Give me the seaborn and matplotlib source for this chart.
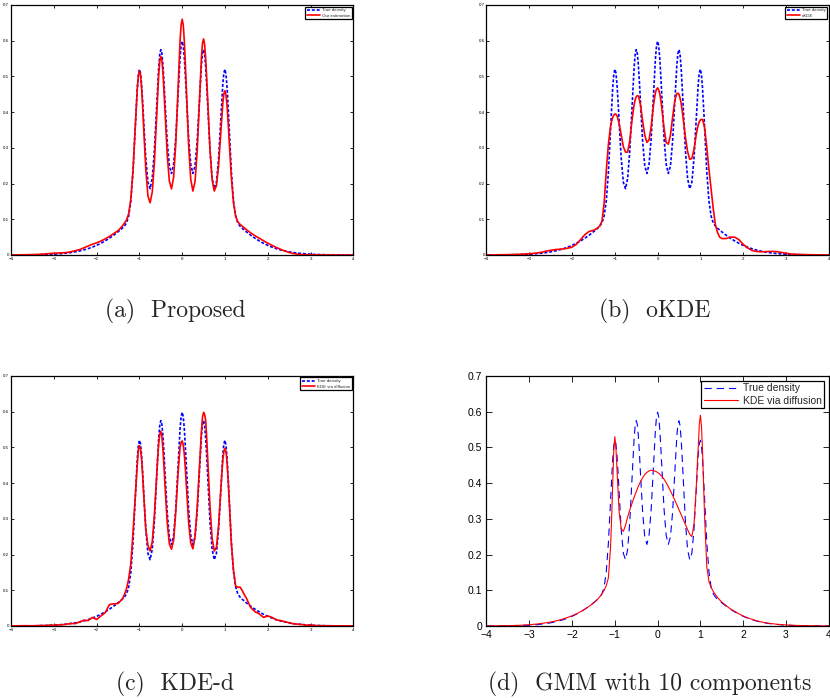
import matplotlib
matplotlib.use("Agg")
import matplotlib.pyplot as plt
import seaborn as sns

sns.set_style("ticks")
plt.rcParams["font.family"] = ["Liberation Sans", "DejaVu Sans"]

# evaluation grid (coarser in the tails)
x_grid = [-4.0, -3.9, -3.8, -3.7, -3.6, -3.5, -3.4, -3.3, -3.2, -3.1,
          -3.0, -2.9, -2.8, -2.7, -2.6, -2.5, -2.4, -2.3, -2.2, -2.1,
          -2.0, -1.9, -1.8, -1.7, -1.6,
          -1.5, -1.45, -1.4, -1.35, -1.3, -1.25, -1.2, -1.15, -1.1, -1.05,
          -1.0, -0.95, -0.9, -0.85, -0.8, -0.75, -0.7, -0.65, -0.6, -0.55,
          -0.5, -0.45, -0.4, -0.35, -0.3, -0.25, -0.2, -0.15, -0.1, -0.05,
          0.0, 0.05, 0.1, 0.15, 0.2, 0.25, 0.3, 0.35, 0.4, 0.45,
          0.5, 0.55, 0.6, 0.65, 0.7, 0.75, 0.8, 0.85, 0.9, 0.95,
          1.0, 1.05, 1.1, 1.15, 1.2, 1.25, 1.3, 1.35, 1.4, 1.45,
          1.5,
          1.6, 1.7, 1.8, 1.9, 2.0, 2.1, 2.2, 2.3, 2.4, 2.5,
          2.6, 2.7, 2.8, 2.9, 3.0, 3.1, 3.2, 3.3, 3.4, 3.5,
          3.6, 3.7, 3.8, 3.9, 4.0]
# extra points around the five peaks
x_peaks = [-1.075, -1.025, -0.975, -0.925, -0.575, -0.525, -0.475, -0.425, -0.075, -0.025,
           0.025, 0.075, 0.425, 0.475, 0.525, 0.575, 0.925, 0.975, 1.025, 1.075]

true_density = [0.0001, 0.0001, 0.0001, 0.0002, 0.0003, 0.0004, 0.0006, 0.0009, 0.0012, 0.0016,
                0.0022, 0.0030, 0.0040, 0.0052, 0.0068, 0.0088, 0.0112, 0.0142, 0.0177, 0.0220,
                0.0270, 0.0328, 0.0395, 0.0470, 0.0555,
                0.0648, 0.0697, 0.0750, 0.0811, 0.0901, 0.1088, 0.1511, 0.2325, 0.3509, 0.4670,
                0.5199, 0.4791, 0.3751, 0.2694, 0.2032, 0.1856, 0.2145, 0.2920, 0.4087, 0.5236,
                0.5749, 0.5324, 0.4262, 0.3180, 0.2491, 0.2283, 0.2539, 0.3276, 0.4406, 0.5513,
                0.5984, 0.5513, 0.4406, 0.3276, 0.2539, 0.2283, 0.2491, 0.3180, 0.4262, 0.5324,
                0.5749, 0.5236, 0.4087, 0.2920, 0.2145, 0.1856, 0.2032, 0.2694, 0.3751, 0.4791,
                0.5199, 0.4670, 0.3509, 0.2325, 0.1511, 0.1088, 0.0901, 0.0811, 0.0750, 0.0697,
                0.0648,
                0.0555, 0.0470, 0.0395, 0.0328, 0.0270, 0.0220, 0.0177, 0.0142, 0.0112, 0.0088,
                0.0068, 0.0052, 0.0040, 0.0030, 0.0022, 0.0016, 0.0012, 0.0009, 0.0006, 0.0004,
                0.0003, 0.0002, 0.0001, 0.0001, 0.0001]
true_peaks = [0.4130, 0.5046, 0.5107, 0.4311, 0.4701, 0.5605, 0.5649, 0.4834, 0.4999, 0.5861,
              0.5861, 0.4999, 0.4834, 0.5649, 0.5605, 0.4701, 0.4311, 0.5107, 0.5046, 0.4130]

ours = [0.0001, 0.0002, 0.0003, 0.0005, 0.0008, 0.0010, 0.0015, 0.0020, 0.0030, 0.0040,
        0.0050, 0.0055, 0.0060, 0.0070, 0.0090, 0.0120, 0.0150, 0.0200, 0.0250, 0.0300,
        0.0340, 0.0390, 0.0450, 0.0520, 0.0600,
        0.068, 0.074, 0.081, 0.089, 0.098, 0.116, 0.157, 0.236, 0.351, 0.464,
        0.515, 0.470, 0.355, 0.239, 0.165, 0.146, 0.176, 0.258, 0.381, 0.502,
        0.556, 0.511, 0.397, 0.281, 0.207, 0.185, 0.218, 0.312, 0.458, 0.600,
        0.660, 0.599, 0.455, 0.308, 0.212, 0.179, 0.205, 0.289, 0.422, 0.553,
        0.605, 0.549, 0.423, 0.295, 0.211, 0.179, 0.194, 0.249, 0.338, 0.426,
        0.460, 0.415, 0.316, 0.215, 0.145, 0.109, 0.093, 0.086, 0.081, 0.076,
        0.071,
        0.062, 0.054, 0.047, 0.040, 0.033, 0.027, 0.021, 0.016, 0.011, 0.007,
        0.004, 0.002, 0.001, 0.0005, 0.0003, 0.0002, 0.0001, 0.0001, 0.0001, 0.0,
        0.0, 0.0, 0.0, 0.0, 0.0]
ours_peaks = [0.411, 0.500, 0.505, 0.417, 0.446, 0.541, 0.545, 0.458, 0.534, 0.644,
              0.644, 0.532, 0.4925, 0.593, 0.589, 0.490, 0.385, 0.452, 0.447, 0.369]

okde = [0.0002, 0.0003, 0.0004, 0.0005, 0.0007, 0.0009, 0.0012, 0.0016, 0.0020, 0.0027,
        0.0035, 0.0045, 0.0060, 0.0080, 0.0110, 0.0130, 0.0150, 0.0160, 0.0170, 0.0190,
        0.0220, 0.0300, 0.0430, 0.0570, 0.0660,
        0.069, 0.072, 0.076, 0.082, 0.095, 0.145, 0.235, 0.310, 0.360, 0.385,
        0.395, 0.390, 0.368, 0.335, 0.303, 0.288, 0.288, 0.320, 0.375, 0.420,
        0.443, 0.445, 0.420, 0.375, 0.335, 0.315, 0.322, 0.360, 0.415, 0.455,
        0.468, 0.452, 0.410, 0.355, 0.315, 0.310, 0.335, 0.385, 0.430, 0.452,
        0.450, 0.425, 0.380, 0.330, 0.290, 0.268, 0.270, 0.295, 0.335, 0.365,
        0.378, 0.379, 0.355, 0.300, 0.240, 0.185, 0.130, 0.085, 0.063, 0.050,
        0.046,
        0.046, 0.050, 0.050, 0.043, 0.030, 0.020, 0.013, 0.010, 0.009, 0.009,
        0.010, 0.010, 0.009, 0.007, 0.005, 0.003, 0.002, 0.0015, 0.001, 0.0007,
        0.0005, 0.0003, 0.0002, 0.0001, 0.0001]
okde_peaks = [0.374, 0.391, 0.394, 0.380, 0.399, 0.434, 0.446, 0.434, 0.437, 0.464,
              0.462, 0.433, 0.443, 0.453, 0.439, 0.404, 0.351, 0.373, 0.380, 0.369]

kde_d = [0.0003, 0.0003, 0.0005, 0.0008, 0.0006, 0.0005, 0.0008, 0.0015, 0.0012, 0.0025,
         0.0020, 0.0030, 0.0035, 0.0050, 0.0070, 0.0065, 0.0110, 0.0160, 0.0150, 0.0240,
         0.0180, 0.0280, 0.0370, 0.0600, 0.0620,
         0.063, 0.069, 0.075, 0.088, 0.105, 0.132, 0.175, 0.260, 0.355, 0.450,
         0.505, 0.470, 0.370, 0.270, 0.225, 0.210, 0.235, 0.310, 0.415, 0.510,
         0.545, 0.495, 0.390, 0.290, 0.230, 0.215, 0.240, 0.320, 0.420, 0.500,
         0.518, 0.480, 0.390, 0.290, 0.232, 0.216, 0.250, 0.330, 0.440, 0.545,
         0.598, 0.575, 0.460, 0.335, 0.245, 0.210, 0.220, 0.280, 0.375, 0.465,
         0.497, 0.455, 0.350, 0.230, 0.155, 0.112, 0.108, 0.109, 0.100, 0.088,
         0.078,
         0.052, 0.040, 0.034, 0.024, 0.028, 0.024, 0.017, 0.015, 0.012, 0.009,
         0.006, 0.005, 0.004, 0.002, 0.003, 0.001, 0.0008, 0.0006, 0.0005, 0.0004,
         0.0003, 0.0002, 0.0002, 0.0001, 0.0001]
kde_d_peaks = [0.406, 0.492, 0.496, 0.424, 0.466, 0.536, 0.532, 0.446, 0.463, 0.5135,
               0.508, 0.438, 0.496, 0.585, 0.592, 0.522, 0.423, 0.489, 0.4865, 0.406]

gmm10 = [0.0001, 0.0002, 0.0003, 0.0004, 0.0006, 0.0008, 0.0011, 0.0015, 0.0020, 0.0027,
         0.0035, 0.0045, 0.0057, 0.0072, 0.0090, 0.0110, 0.0135, 0.0165, 0.0200, 0.0240,
         0.0285, 0.0340, 0.0400, 0.0470, 0.0550,
         0.064, 0.069, 0.075, 0.082, 0.090, 0.100, 0.113, 0.135, 0.220, 0.400,
         0.530, 0.440, 0.320, 0.272, 0.265, 0.282, 0.305, 0.325, 0.343, 0.360,
         0.376, 0.391, 0.404, 0.415, 0.424, 0.430, 0.434, 0.436, 0.435, 0.433,
         0.430, 0.425, 0.419, 0.411, 0.401, 0.390, 0.378, 0.366, 0.353, 0.339,
         0.325, 0.312, 0.298, 0.284, 0.270, 0.257, 0.250, 0.285, 0.380, 0.500,
         0.590, 0.490, 0.300, 0.165, 0.125, 0.108, 0.097, 0.088, 0.080, 0.073,
         0.067,
         0.057, 0.048, 0.041, 0.034, 0.028, 0.023, 0.019, 0.015, 0.012, 0.0095,
         0.0075, 0.0060, 0.0047, 0.0037, 0.0029, 0.0022, 0.0017, 0.0013, 0.0010, 0.0008,
         0.0006, 0.0005, 0.0004, 0.0003, 0.0002]
gmm10_peaks = [0.300, 0.490, 0.500, 0.375, 0.3515, 0.368, 0.3835, 0.3975, 0.434, 0.4315,
               0.4275, 0.422, 0.346, 0.332, 0.3185, 0.305, 0.445, 0.565, 0.560, 0.390]

x_ticks = [-4, -3, -2, -1, 0, 1, 2, 3, 4]
y_ticks = [0, 0.1, 0.2, 0.3, 0.4, 0.5, 0.6, 0.7]
y_tick_labels = ["0", "0.1", "0.2", "0.3", "0.4", "0.5", "0.6", "0.7"]

captions = ["(a)  Proposed", "(b)  oKDE", "(c)  KDE-d", "(d)  GMM with 10 components"]
est_labels = ["Our estimation", "oKDE", "KDE via diffusion", "KDE via diffusion"]
estimates = [ours + ours_peaks, okde + okde_peaks,
             kde_d + kde_d_peaks, gmm10 + gmm10_peaks]
x_all = x_grid + x_peaks
true_all = true_density + true_peaks

for arr in [true_all] + estimates:
    assert len(arr) == len(x_all)

fig = plt.figure(figsize=(8.3, 6.98), dpi=100)

# axes rectangles (figure fraction) and caption anchors
rects = [[0.0133, 0.6347, 0.4124, 0.3582],
         [0.5861, 0.6347, 0.4124, 0.3582],
         [0.0133, 0.1032, 0.4124, 0.3582],
         [0.5861, 0.1032, 0.4124, 0.3582]]
cap_pos = [(0.2108, 0.5458), (0.789, 0.5458), (0.2108, 0.0115), (0.783, 0.0115)]

for i in range(4):
    big = (i == 3)
    ax = fig.add_axes(rects[i])
    lw = 0.8 if big else 1.2
    dash = (6.5, 4.5) if big else (1.8, 1.1)
    # seaborn sorts by x, so the extra peak points slot into place
    sns.lineplot(x=x_all, y=true_all, ax=ax, color="#0000ff", lw=lw,
                 linestyle=(0, dash), label="True density")
    sns.lineplot(x=x_all, y=estimates[i], ax=ax, color="#ff0000", lw=lw,
                 label=est_labels[i])
    ax.set_xlim(-4, 4)
    ax.set_ylim(0, 0.7)
    ax.set_xticks(x_ticks)
    ax.set_yticks(y_ticks)
    ax.set_yticklabels(y_tick_labels)
    ax.set_xlabel("")
    ax.set_ylabel("")
    fs = 7.5 if big else 3.2
    ax.tick_params(direction="in", top=True, right=True, length=4 if big else 2.5,
                   width=0.6, labelsize=fs, pad=3 if big else 1.2, colors="black")
    for sp in ax.spines.values():
        sp.set_color("black")
        sp.set_linewidth(0.9)
    if big:
        leg = ax.legend(loc="upper right", fontsize=7.5, handlelength=3.3,
                        handletextpad=0.4, borderpad=0.25, labelspacing=0.25,
                        borderaxespad=0.45, fancybox=False, framealpha=1)
    else:
        leg = ax.legend(loc="upper right", fontsize=3.2, handlelength=3.0,
                        handletextpad=0.4, borderpad=0.35, labelspacing=0.3,
                        borderaxespad=0.35, fancybox=False, framealpha=1)
    leg.get_frame().set_edgecolor("black")
    leg.get_frame().set_linewidth(0.9)
    fig.text(cap_pos[i][0], cap_pos[i][1], captions[i], family="cmr10",
             fontsize=17, ha="center", va="baseline")

fig.savefig("out.png", dpi=100)
